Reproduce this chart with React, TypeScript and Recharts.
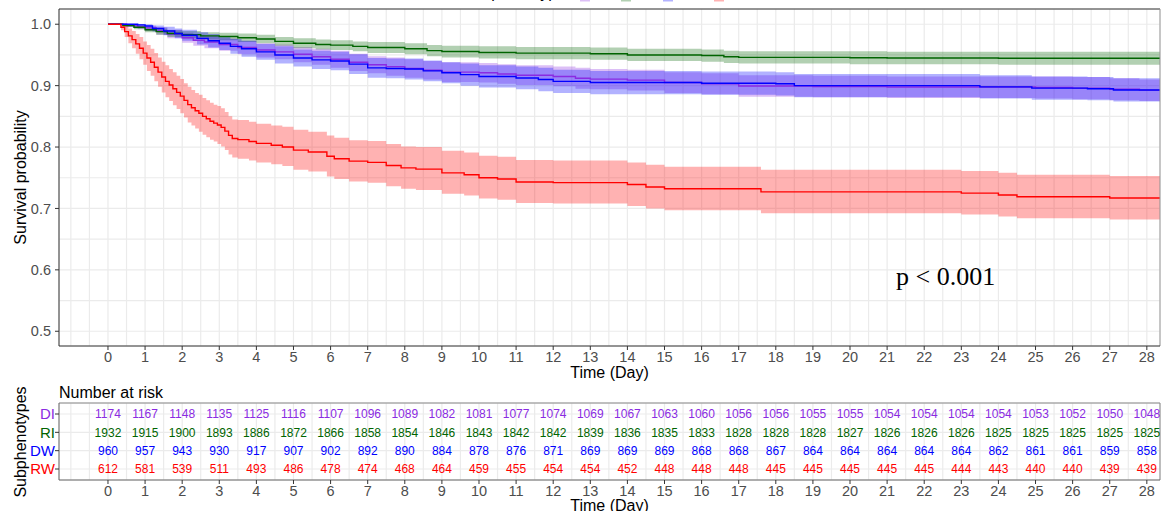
import {
  Area,
  CartesianGrid,
  ComposedChart,
  Line,
  ReferenceLine,
  Scatter,
  XAxis,
  YAxis,
} from "recharts";

// group colours (line / text)
const colors: Record<string, string> = {
  DI: "#8a2be2",
  RI: "#006400",
  DW: "#0000ff",
  RW: "#ff0000",
};

// Number at risk table
const riskDays = [0, 1, 2, 3, 4, 5, 6, 7, 8, 9, 10, 11, 12, 13, 14, 15, 16, 17, 18, 19, 20, 21, 22, 23, 24, 25, 26, 27, 28];
const riskDI = [1174, 1167, 1148, 1135, 1125, 1116, 1107, 1096, 1089, 1082, 1081, 1077, 1074, 1069, 1067, 1063, 1060, 1056, 1056, 1055, 1055, 1054, 1054, 1054, 1054, 1053, 1052, 1050, 1048];
const riskRI = [1932, 1915, 1900, 1893, 1886, 1872, 1866, 1858, 1854, 1846, 1843, 1842, 1842, 1839, 1836, 1835, 1833, 1828, 1828, 1828, 1827, 1826, 1826, 1826, 1825, 1825, 1825, 1825, 1825];
const riskDW = [960, 957, 943, 930, 917, 907, 902, 892, 890, 884, 878, 876, 871, 869, 869, 869, 868, 868, 867, 864, 864, 864, 864, 864, 862, 861, 861, 859, 858];
const riskRW = [612, 581, 539, 511, 493, 486, 478, 474, 468, 464, 459, 455, 454, 454, 452, 448, 448, 448, 445, 445, 445, 445, 445, 444, 443, 440, 440, 439, 439];

// Kaplan-Meier curves (step points) with 95% bands
const diTime = [0, 0.5, 0.8, 1.0, 1.3, 1.6, 2.0, 2.3, 2.6, 3.0, 3.5, 4.0, 4.5, 5.0, 5.5, 6.0, 6.5, 7.0, 7.5, 8.0, 8.5, 9.0, 10.0, 10.5, 11.0, 12.0, 12.6, 13.0, 14.0, 15.0, 16.0, 17.0, 19.0, 21.0, 25.0, 26.0, 27.0, 27.8, 28.4];
const diSurv = [1, 0.998, 0.996, 0.994, 0.989, 0.984, 0.978, 0.974, 0.971, 0.967, 0.962, 0.958, 0.955, 0.951, 0.947, 0.943, 0.938, 0.934, 0.931, 0.928, 0.925, 0.922, 0.921, 0.919, 0.917, 0.915, 0.912, 0.9106, 0.909, 0.905, 0.903, 0.8995, 0.8986, 0.8978, 0.897, 0.896, 0.894, 0.8927, 0.8927];
const diLower = [1, 0.995, 0.992, 0.989, 0.983, 0.977, 0.97, 0.965, 0.961, 0.957, 0.951, 0.946, 0.943, 0.938, 0.934, 0.929, 0.924, 0.92, 0.916, 0.913, 0.91, 0.906, 0.905, 0.903, 0.901, 0.899, 0.895, 0.894, 0.892, 0.888, 0.886, 0.882, 0.881, 0.88, 0.879, 0.878, 0.876, 0.875, 0.875];
const diUpper = [1, 1, 1, 0.998, 0.995, 0.991, 0.986, 0.983, 0.981, 0.977, 0.973, 0.969, 0.967, 0.963, 0.96, 0.957, 0.952, 0.948, 0.946, 0.943, 0.94, 0.938, 0.937, 0.935, 0.933, 0.931, 0.929, 0.927, 0.926, 0.922, 0.92, 0.917, 0.916, 0.915, 0.915, 0.914, 0.912, 0.91, 0.91];

const riTime = [0, 0.4, 0.7, 1.0, 1.3, 1.6, 2.0, 2.5, 3.0, 3.5, 4.0, 4.5, 5.0, 5.6, 6.0, 6.6, 7.0, 8.0, 8.6, 9.0, 10.0, 11.0, 13.0, 14.0, 16.0, 16.6, 17.0, 20.0, 21.0, 24.0, 28.4];
const riSurv = [1, 0.998, 0.995, 0.991, 0.988, 0.985, 0.983, 0.981, 0.98, 0.978, 0.976, 0.972, 0.969, 0.967, 0.966, 0.964, 0.962, 0.96, 0.957, 0.9555, 0.954, 0.953, 0.952, 0.95, 0.949, 0.947, 0.946, 0.9455, 0.945, 0.9446, 0.9446];
const riLower = [1, 0.996, 0.992, 0.987, 0.983, 0.979, 0.977, 0.975, 0.974, 0.971, 0.969, 0.965, 0.961, 0.959, 0.958, 0.956, 0.953, 0.951, 0.948, 0.946, 0.944, 0.943, 0.942, 0.94, 0.939, 0.937, 0.936, 0.935, 0.935, 0.934, 0.934];
const riUpper = [1, 1, 0.998, 0.995, 0.993, 0.99, 0.989, 0.987, 0.986, 0.985, 0.983, 0.979, 0.977, 0.975, 0.974, 0.972, 0.971, 0.969, 0.966, 0.965, 0.964, 0.963, 0.962, 0.96, 0.959, 0.957, 0.956, 0.956, 0.955, 0.955, 0.955];

const dwTime = [0, 0.8, 1.0, 1.2, 1.5, 1.8, 2.0, 2.4, 2.7, 3.0, 3.3, 3.6, 4.0, 4.5, 5.0, 5.5, 6.0, 6.5, 7.0, 7.5, 8.0, 8.5, 9.0, 9.5, 10.0, 11.0, 11.6, 12.0, 13.0, 16.0, 18.0, 18.5, 23.5, 24.9, 26.4, 27.1, 28.4];
const dwSurv = [1, 0.999, 0.997, 0.993, 0.989, 0.985, 0.982, 0.977, 0.973, 0.969, 0.964, 0.96, 0.955, 0.95, 0.945, 0.942, 0.94, 0.935, 0.929, 0.928, 0.927, 0.924, 0.921, 0.918, 0.915, 0.9125, 0.91, 0.907, 0.905, 0.904, 0.903, 0.9, 0.898, 0.896, 0.895, 0.893, 0.893];
const dwLower = [1, 0.997, 0.993, 0.988, 0.982, 0.977, 0.973, 0.967, 0.962, 0.958, 0.952, 0.947, 0.942, 0.936, 0.931, 0.927, 0.925, 0.919, 0.913, 0.912, 0.91, 0.907, 0.904, 0.9, 0.897, 0.894, 0.891, 0.888, 0.886, 0.885, 0.884, 0.881, 0.879, 0.877, 0.876, 0.874, 0.874];
const dwUpper = [1, 1, 1, 0.998, 0.996, 0.993, 0.991, 0.987, 0.984, 0.98, 0.976, 0.973, 0.968, 0.964, 0.959, 0.957, 0.955, 0.951, 0.945, 0.944, 0.944, 0.941, 0.938, 0.936, 0.933, 0.931, 0.929, 0.926, 0.924, 0.923, 0.922, 0.919, 0.917, 0.915, 0.914, 0.912, 0.912];

const rwTime = [0, 0.35, 0.45, 0.55, 0.65, 0.75, 0.85, 0.95, 1.05, 1.15, 1.25, 1.35, 1.45, 1.55, 1.65, 1.75, 1.85, 1.95, 2.05, 2.15, 2.25, 2.35, 2.45, 2.55, 2.65, 2.75, 2.85, 2.95, 3.05, 3.15, 3.25, 3.35, 3.5, 3.8, 4.0, 4.4, 4.7, 5.0, 5.4, 5.9, 6.1, 6.5, 7.0, 7.5, 7.9, 8.3, 9.0, 9.6, 10.0, 10.5, 11.0, 12.0, 14.0, 14.5, 15.0, 17.6, 23.0, 24.0, 24.5, 27.0, 28.4];
const rwSurv = [1, 0.995, 0.988, 0.981, 0.975, 0.968, 0.961, 0.953, 0.945, 0.938, 0.93, 0.922, 0.914, 0.907, 0.901, 0.895, 0.889, 0.883, 0.876, 0.869, 0.864, 0.859, 0.855, 0.85, 0.846, 0.842, 0.839, 0.836, 0.832, 0.826, 0.819, 0.814, 0.812, 0.809, 0.806, 0.803, 0.8, 0.795, 0.792, 0.785, 0.781, 0.777, 0.775, 0.77, 0.766, 0.764, 0.758, 0.755, 0.75, 0.748, 0.743, 0.742, 0.739, 0.735, 0.732, 0.727, 0.725, 0.722, 0.719, 0.717, 0.717];
const rwLower = [1, 0.99, 0.979, 0.969, 0.961, 0.952, 0.943, 0.934, 0.924, 0.916, 0.907, 0.898, 0.889, 0.881, 0.875, 0.868, 0.862, 0.855, 0.848, 0.84, 0.835, 0.83, 0.825, 0.82, 0.816, 0.812, 0.809, 0.805, 0.801, 0.795, 0.788, 0.783, 0.781, 0.778, 0.775, 0.772, 0.769, 0.763, 0.76, 0.752, 0.748, 0.744, 0.742, 0.736, 0.732, 0.73, 0.724, 0.721, 0.716, 0.714, 0.709, 0.708, 0.704, 0.7, 0.697, 0.692, 0.69, 0.687, 0.684, 0.682, 0.682];
const rwUpper = [1, 1, 0.997, 0.993, 0.989, 0.984, 0.979, 0.972, 0.966, 0.96, 0.953, 0.946, 0.939, 0.933, 0.927, 0.922, 0.916, 0.911, 0.904, 0.898, 0.893, 0.888, 0.885, 0.88, 0.876, 0.872, 0.869, 0.867, 0.863, 0.857, 0.85, 0.845, 0.844, 0.841, 0.838, 0.835, 0.833, 0.828, 0.825, 0.819, 0.815, 0.811, 0.81, 0.805, 0.801, 0.8, 0.794, 0.791, 0.786, 0.784, 0.779, 0.778, 0.775, 0.771, 0.768, 0.763, 0.761, 0.758, 0.755, 0.753, 0.753];

const yTicks = [0.5, 0.55, 0.6, 0.65, 0.7, 0.75, 0.8, 0.85, 0.9, 0.95, 1.0];
const halfDays = Array.from({ length: 59 }, (_, i) => -1 + i * 0.5);
const X_MIN = -1.32;
const X_MAX = 28.355;
const Y_MIN = 0.476;
const Y_MAX = 1.0248;

const toRows = (t: number[], s: number[], lo: number[], hi: number[]) =>
  t.map((v, i) => ({ t: v, s: s[i], band: [lo[i], hi[i]] }));

const curves = [
  { id: "DI", rows: toRows(diTime, diSurv, diLower, diUpper) },
  { id: "RI", rows: toRows(riTime, riSurv, riLower, riUpper) },
  { id: "DW", rows: toRows(dwTime, dwSurv, dwLower, dwUpper) },
  { id: "RW", rows: toRows(rwTime, rwSurv, rwLower, rwUpper) },
];

const riskRows = [
  { id: "DI", row: 4, values: riskDI },
  { id: "RI", row: 3, values: riskRI },
  { id: "DW", row: 2, values: riskDW },
  { id: "RW", row: 1, values: riskRW },
];
const rowNames: Record<number, string> = { 4: "DI", 3: "RI", 2: "DW", 1: "RW" };

const tickText = "#4d4d4d";
const gridColor = "#ebebeb";

const XTick = ({ x, y, payload }: any) => {
  const v = payload.value;
  if (!Number.isInteger(v) || v < 0) return <g />;
  return (
    <g>
      <line x1={x} x2={x} y1={y} y2={y + 4} stroke="#333" />
      <text x={x} y={y + 11} dy="0.35em" textAnchor="middle" fontSize={14.5} fill={tickText}>
        {v}
      </text>
    </g>
  );
};

const YTick = ({ x, y, payload }: any) => {
  const v = payload.value;
  if (Math.abs(v * 10 - Math.round(v * 10)) > 1e-6) return <g />;
  return (
    <g>
      <line x1={x - 4} x2={x} y1={y} y2={y} stroke="#333" />
      <text x={x - 8} y={y} dy="0.35em" textAnchor="end" fontSize={14.5} fill={tickText}>
        {v.toFixed(1)}
      </text>
    </g>
  );
};

const RowTick = ({ x, y, payload }: any) => {
  const name = rowNames[payload.value];
  return (
    <g>
      <line x1={x - 4} x2={x} y1={y} y2={y} stroke="#333" />
      <text x={x - 4} y={y} dy="0.35em" textAnchor="end" fontSize={15} fill={colors[name]}>
        {name}
      </text>
    </g>
  );
};

function SurvivalChart() {
  return (
    <ComposedChart
      width={1168}
      height={390}
      margin={{ top: 9, right: 8, bottom: 10, left: 0 }}
    >
      <CartesianGrid stroke={gridColor} strokeWidth={1.2} />
      <XAxis
        type="number"
        dataKey="t"
        domain={[X_MIN, X_MAX]}
        ticks={halfDays}
        interval={0}
        allowDataOverflow
        height={34}
        tickSize={0}
        tickMargin={0}
        tickLine={false}
        tick={<XTick />}
        axisLine={{ stroke: "#333" }}
      />
      <YAxis
        type="number"
        domain={[Y_MIN, Y_MAX]}
        ticks={yTicks}
        interval={0}
        allowDataOverflow
        width={59}
        tickSize={0}
        tickMargin={0}
        tickLine={false}
        tick={<YTick />}
        axisLine={{ stroke: "#333" }}
      />
      {curves.map((c) => (
        <Area
          key={`band-${c.id}`}
          data={c.rows}
          dataKey="band"
          type="stepAfter"
          stroke="none"
          fill={colors[c.id]}
          fillOpacity={0.3}
          isAnimationActive={false}
        />
      ))}
      {curves.map((c) => (
        <Line
          key={`line-${c.id}`}
          data={c.rows}
          dataKey="s"
          type="stepAfter"
          stroke={colors[c.id]}
          strokeWidth={1.4}
          dot={false}
          isAnimationActive={false}
        />
      ))}
      <ReferenceLine y={Y_MAX} stroke="#333" />
      <ReferenceLine x={X_MAX} stroke="#999" />
    </ComposedChart>
  );
}

function RiskTable() {
  return (
    <ComposedChart
      width={1168}
      height={130}
      margin={{ top: 22, right: 8, bottom: 7, left: 0 }}
    >
      <CartesianGrid stroke={gridColor} strokeWidth={1.2} />
      <XAxis
        type="number"
        dataKey="t"
        domain={[X_MIN, X_MAX]}
        ticks={halfDays}
        interval={0}
        allowDataOverflow
        height={24}
        tickSize={0}
        tickMargin={0}
        tickLine={false}
        tick={<XTick />}
        axisLine={{ stroke: "#666" }}
      />
      <YAxis
        type="number"
        dataKey="row"
        domain={[0.4, 4.6]}
        ticks={[1, 2, 3, 4]}
        interval={0}
        allowDataOverflow
        width={59}
        tickSize={0}
        tickMargin={0}
        tickLine={false}
        tick={<RowTick />}
        axisLine={{ stroke: "#666" }}
      />
      {riskRows.map((r) => (
        <Scatter
          key={r.id}
          data={riskDays.map((d, i) => ({ t: d, row: r.row, n: r.values[i] }))}
          isAnimationActive={false}
          shape={(p: any) => (
            <text x={p.cx} y={p.cy} dy="0.35em" textAnchor="middle" fontSize={12} fill={colors[r.id]}>
              {p.payload.n}
            </text>
          )}
        />
      ))}
      <ReferenceLine y={4.6} stroke="#888" />
      <ReferenceLine x={X_MAX} stroke="#888" />
    </ComposedChart>
  );
}

export default function App() {
  const legendKeys = [
    { id: "DI", x: 580 },
    { id: "RI", x: 621 },
    { id: "DW", x: 663 },
    { id: "RW", x: 714 },
  ];
  return (
    <div
      style={{
        position: "absolute",
        top: 0,
        left: 0,
        width: 1168,
        height: 511,
        overflow: "hidden",
        background: "#fff",
        fontFamily: '"Liberation Sans", Arial, sans-serif',
      }}
    >
      <div style={{ position: "absolute", top: 0, left: 0 }}>
        <SurvivalChart />
      </div>
      <div style={{ position: "absolute", top: 381, left: 0 }}>
        <RiskTable />
      </div>
      <svg
        width={1168}
        height={511}
        style={{ position: "absolute", top: 0, left: 0, overflow: "visible", pointerEvents: "none" }}
      >
        {/* legend sits above the visible area, only its bottom edge shows */}
        <text x={574} y={-2} textAnchor="end" fontSize={16} fill="#000">
          Subphenotypes
        </text>
        {legendKeys.map((l) => (
          <rect key={l.id} x={l.x} y={-9} width={10} height={10.5} fill={colors[l.id]} fillOpacity={0.3} />
        ))}
        <text
          transform="translate(20,177.5) rotate(-90)"
          textAnchor="middle"
          dy="0.35em"
          fontSize={16}
          fill="#000"
        >
          Survival probability
        </text>
        <text x={609.5} y={372} dy="0.35em" textAnchor="middle" fontSize={16} fill="#000">
          Time (Day)
        </text>
        <text
          x={896}
          y={285}
          fontSize={26}
          fill="#000"
          fontFamily='"Liberation Serif", "Times New Roman", serif'
        >
          p &lt; 0.001
        </text>
        <text x={59} y={392} dy="0.35em" fontSize={16} fill="#000">
          Number at risk
        </text>
        <text
          transform="translate(20,442) rotate(-90)"
          textAnchor="middle"
          dy="0.35em"
          fontSize={16}
          fill="#000"
        >
          Subphenotypes
        </text>
        <text x={609.5} y={505.5} dy="0.35em" textAnchor="middle" fontSize={16} fill="#000">
          Time (Day)
        </text>
      </svg>
    </div>
  );
}
